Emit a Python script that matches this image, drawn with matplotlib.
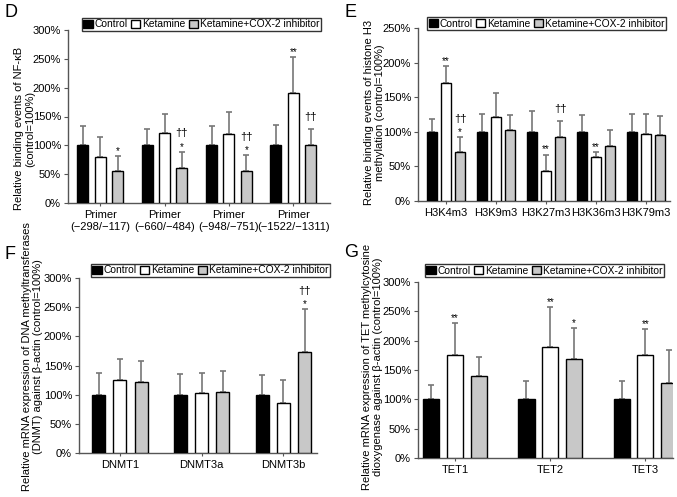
import matplotlib
matplotlib.use("Agg")
import matplotlib.pyplot as plt
import numpy as np

plt.rcParams['font.family'] = ['Liberation Sans', 'DejaVu Sans']

series_names = ["Control", "Ketamine", "Ketamine+COX-2 inhibitor"]
series_colors = ["black", "white", "#c8c8c8"]

# Panel D
d_cats = ["Primer\n(\u2212298/\u2212117)", "Primer\n(\u2212660/\u2212484)",
          "Primer\n(\u2212948/\u2212751)", "Primer\n(\u22121522/\u22121311)"]
d_mean = [[100, 100, 100, 100], [79, 121, 119, 190], [56, 61, 56, 101]]
d_err = [[33, 28, 34, 35], [36, 34, 39, 63], [25, 28, 27, 28]]
d_star = [["", "", "", ""], ["", "", "", "**"], ["*", "*", "*", ""]]
d_dag = [["", "", "", ""], ["", "", "", ""], ["", "\u2020\u2020", "\u2020\u2020", "\u2020\u2020"]]

# Panel E
e_cats = ["H3K4m3", "H3K9m3", "H3K27m3", "H3K36m3", "H3K79m3"]
e_mean = [[100, 100, 100, 100, 100], [170, 122, 44, 64, 97], [71, 103, 92, 80, 95]]
e_err = [[18, 25, 30, 24, 25], [25, 34, 23, 7, 28], [21, 21, 24, 22, 28]]
e_star = [["", "", "", "", ""], ["**", "", "**", "**", ""], ["*", "", "", "", ""]]
e_dag = [["", "", "", "", ""], ["", "", "", "", ""], ["\u2020\u2020", "", "\u2020\u2020", "", ""]]

# Panel F
f_cats = ["DNMT1", "DNMT3a", "DNMT3b"]
f_mean = [[100, 100, 100], [125, 103, 86], [122, 105, 173]]
f_err = [[37, 35, 34], [36, 34, 40], [35, 35, 74]]
f_star = [["", "", ""], ["", "", ""], ["", "", "*"]]
f_dag = [["", "", ""], ["", "", ""], ["", "", "\u2020\u2020"]]

# Panel G
g_cats = ["TET1", "TET2", "TET3"]
g_mean = [[100, 100, 100], [176, 190, 175], [140, 169, 127]]
g_err = [[25, 31, 32], [54, 67, 45], [33, 53, 57]]
g_star = [["", "", ""], ["**", "**", "**"], ["", "*", ""]]
g_dag = [["", "", ""], ["", "", ""], ["", "", ""]]

W, H = 677, 497
fig = plt.figure(figsize=(W / 100, H / 100), dpi=100)


def px_axes(l, r, t, b):
    return fig.add_axes([l / W, 1 - b / H, (r - l) / W, (b - t) / H])


def panel(ax, cats, means, errs, stars, dags, ymax, xlim, bw, off, ylabel,
          ylab_xy, leg_xy):
    x = np.arange(len(cats))
    handles = []
    for i in range(3):
        xs = x + (i - 1) * off
        bars = ax.bar(xs, means[i], width=bw, color=series_colors[i],
                      edgecolor="black", linewidth=1.0, zorder=3,
                      label=series_names[i])
        handles.append(bars)
        ax.errorbar(xs, means[i], yerr=[np.zeros(len(cats)), errs[i]],
                    fmt="none", ecolor="#777777", elinewidth=1.2, capsize=2.5,
                    capthick=1.2, zorder=2)
        for j in range(len(cats)):
            top = means[i][j] + errs[i][j]
            if stars[i][j]:
                ax.annotate(stars[i][j], (xs[j], top), xytext=(0, 1.5),
                            textcoords="offset points", ha="center",
                            va="baseline", fontsize=7)
            if dags[i][j]:
                dy = 11 if stars[i][j] else 6
                ax.annotate(dags[i][j], (xs[j], top), xytext=(0, dy),
                            textcoords="offset points", ha="center",
                            va="baseline", fontsize=8)
    ax.set_xlim(*xlim)
    ax.set_ylim(0, ymax)
    ax.set_yticks(np.arange(0, ymax + 1, 50))
    ax.set_yticklabels([f"{v}%" for v in range(0, ymax + 1, 50)])
    ax.set_xticks(x)
    ax.set_xticklabels(cats, fontsize=8, linespacing=1.2)
    ax.tick_params(axis="x", length=2, width=0.8, color="#555555", pad=3)
    ax.tick_params(axis="y", length=3, width=0.8, color="#555555",
                   labelsize=8, pad=2)
    for s in ["top", "right"]:
        ax.spines[s].set_visible(False)
    for s in ["left", "bottom"]:
        ax.spines[s].set_color("#555555")
        ax.spines[s].set_linewidth(1.0)
    ax.set_ylabel(ylabel, fontsize=8, linespacing=1.15)
    ax.yaxis.set_label_coords(*ylab_xy)
    leg = ax.legend(handles, series_names, loc="lower left",
                    bbox_to_anchor=leg_xy, ncol=3,
                    fontsize=7.4, frameon=True, fancybox=False,
                    edgecolor="black", handlelength=0.9, handleheight=0.8,
                    handletextpad=0.2, columnspacing=0.3, borderpad=0.15,
                    borderaxespad=0)
    leg.get_frame().set_linewidth(1.0)
    leg.set_zorder(5)


axD = px_axes(68, 330, 30, 203)
panel(axD, d_cats, d_mean, d_err, d_star, d_dag, 300, (-0.5, 3.57), 0.17,
      0.27, "Relative binding events of NF-\u03baB\n(control=100%)",
      (-0.126, 0.43), (0.053, 0.994))

axE = px_axes(418, 670, 28, 201)
panel(axE, e_cats, e_mean, e_err, e_star, e_dag, 250, (-0.56, 4.48), 0.2,
      0.28, "Relative binding events of histone H3\nmethylation (control=100%)",
      (-0.131, 0.51), (0.036, 0.988))

axF = px_axes(79, 317, 278, 453)
panel(axF, f_cats, f_mean, f_err, f_star, f_dag, 300, (-0.5, 2.41), 0.16,
      0.26,
      "Relative mRNA expression of DNA methyltransferases\n(DNMT) against \u03b2-actin (control=100%)",
      (-0.151, 0.55), (0.05, 1.006))

axG = px_axes(418, 673, 282, 458)
panel(axG, g_cats, g_mean, g_err, g_star, g_dag, 300, (-0.39, 2.29), 0.17,
      0.25,
      "Relative mRNA expression of TET methylcytosine\ndioxygenase against \u03b2-actin (control=100%)",
      (-0.137, 0.52), (0.027, 1.028))

for lab, xp, yp in [("D", 5, 4), ("E", 345, 4), ("F", 4, 246), ("G", 344, 244)]:
    fig.text(xp / W, 1 - yp / H, lab, fontsize=13, ha="left", va="top")

fig.savefig("out.png", dpi=100)
